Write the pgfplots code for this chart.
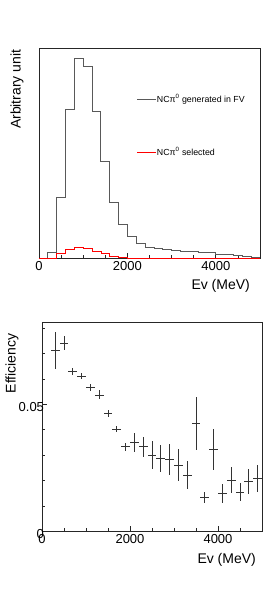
\documentclass[border=0pt]{standalone}
\usepackage{fontspec}
\setmainfont{Liberation Sans}
\usepackage{pgfplots}
\pgfplotsset{compat=1.18}
\usepackage{pgfplotstable}

\pgfplotstableread{
x y
0 0
200 0.143
400 1.452
600 3.556
800 4.750
1000 4.560
1200 3.490
1400 2.310
1600 1.341
1800 0.817
2000 0.516
2200 0.349
2400 0.258
2600 0.230
2800 0.214
3000 0.190
3200 0.175
3400 0.159
3600 0.143
3800 0.135
4000 0.103
4200 0.087
4400 0.071
4600 0.048
4800 0.032
5000 0.032
}\gen

\pgfplotstableread{
x y
0 0.002
200 0.002
400 0.111
600 0.214
800 0.270
1000 0.238
1200 0.175
1400 0.111
1600 0.056
1800 0.016
2000 0.008
2200 0.006
2400 0.005
2600 0.004
2800 0.004
3000 0.004
3200 0.003
3400 0.003
3600 0.003
3800 0.003
4000 0.003
4200 0.003
4400 0.003
4600 0.003
4800 0.003
5000 0.003
}\sel

\pgfplotstableread{
x y ex ey
300 0.0712 100 0.0073
500 0.0741 100 0.0028
700 0.0630 100 0.0013
900 0.0612 100 0.0013
1100 0.0566 100 0.0013
1300 0.0537 100 0.0018
1500 0.0463 100 0.0013
1700 0.0403 100 0.0013
1900 0.0333 100 0.0015
2100 0.0350 100 0.0036
2300 0.0333 100 0.0039
2500 0.0300 100 0.0055
2700 0.0288 100 0.0053
2900 0.0282 100 0.0062
3100 0.0261 100 0.0064
3300 0.0222 100 0.0054
3500 0.0425 100 0.0104
3700 0.0133 100 0.0020
3900 0.0322 100 0.0080
4100 0.0150 100 0.0037
4300 0.0201 100 0.0051
4500 0.0154 100 0.0035
4700 0.0196 100 0.0049
4900 0.0207 100 0.0054
}\eff

\begin{document}
\begin{tikzpicture}
\path[use as bounding box] (0pt,0pt) rectangle (275pt,602pt);
\pgfplotsset{
  rootstyle/.style={
    scale only axis,
    axis line style={black!85, line width=0.7pt},
    tick style={black!85, line width=0.6pt},
    tick pos=left,
    tick align=inside,
    major tick length=5pt,
    minor tick length=3pt,
    /pgf/number format/assume math mode=true,
    ticklabel style={font=\fontsize{13}{14}\selectfont},
    label style={font=\fontsize{14}{16}\selectfont, inner sep=0pt},
    xmin=0, xmax=5000,
    xtick={0,2000,4000},
    xticklabels={0,2000,4000},
    minor xtick={500,1000,1500,2500,3000,3500,4500},
    scaled ticks=false,
  }
}
\begin{axis}[rootstyle,
  at={(39pt,343.7pt)}, anchor=origin,
  width=221pt, height=210pt,
  ymin=0, ymax=5,
  ytick=\empty,
  minor ytick={1,2,3,4},
  xlabel={Ev (MeV)},
  ylabel={Arbitrary unit},
  xlabel style={at={(axis description cs:0.955,-0.129)}, anchor=east},
  ylabel style={at={(axis description cs:-0.10,0.995)}, anchor=east},
  legend style={draw=none, fill=none, at={(axis description cs:0.443,0.631)}, anchor=west,
    font=\fontsize{8.8}{10}\selectfont, row sep=41pt, inner sep=0pt,
    nodes={inner sep=1pt}},
  legend cell align=left,
  legend image code/.code={\draw[#1] (0pt,0pt) -- (18pt,0pt);},
]
\addplot[const plot, black!65, line width=0.8pt] table[x=x,y=y]{\gen};
\addlegendentry{NCπ\textsuperscript{0} generated in FV}
\addplot[const plot, red, line width=0.7pt] table[x=x,y=y]{\sel};
\addlegendentry{NCπ\textsuperscript{0} selected}
\end{axis}

\begin{axis}[rootstyle,
  at={(42pt,70.7pt)}, anchor=origin,
  width=220pt, height=209pt,
  ymin=0, ymax=0.0823,
  ytick={0,0.05}, yticklabels={0,0.05},
  minor ytick={0.01,0.02,0.03,0.04,0.06,0.07,0.08},
  yticklabel style={xshift=5.5pt, yshift=-3pt},
  xlabel={Ev (MeV)},
  ylabel={Efficiency},
  xlabel style={at={(axis description cs:0.973,-0.139)}, anchor=east},
  ylabel style={at={(axis description cs:-0.136,0.947)}, anchor=east},
]
\addplot[draw=none, mark=none,
  error bars/.cd, x dir=both, x explicit, y dir=both, y explicit,
  error mark=none, error bar style={draw=black!80, line width=0.6pt}]
  table[x=x, y=y, x error=ex, y error=ey]{\eff};
\end{axis}
\end{tikzpicture}
\end{document}
